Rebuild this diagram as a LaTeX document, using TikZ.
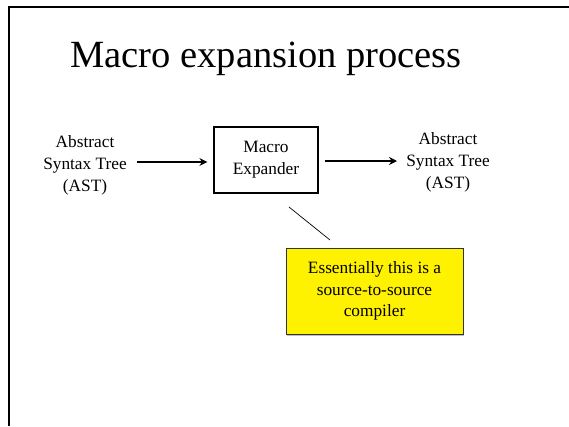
\documentclass[tikz,border=0pt]{standalone}
\usepackage{fontspec}
\setmainfont{Liberation Serif}
\usetikzlibrary{arrows.meta,shadows}
\begin{document}
\begin{tikzpicture}[x=1pt,y=-1pt,
  lbl/.style={align=center,font=\fontsize{17.3}{22}\selectfont,inner sep=0pt},
  conn/.style={line width=1.6pt,-{Stealth[length=8pt,width=8pt]}},
  procbox/.style={draw,line width=1.2pt,minimum width=104pt,minimum height=66pt,align=center,font=\fontsize{17.3}{22}\selectfont,inner sep=0pt},
  notebox/.style={draw=black!80,fill=yellow,line width=0.8pt,minimum width=177pt,minimum height=86pt,align=center,font=\fontsize{17.3}{21.5}\selectfont,inner sep=0pt,drop shadow={shadow xshift=1pt,shadow yshift=-1.5pt,opacity=0.5}}]
\useasboundingbox (0,0) rectangle (569,426);
\fill[white] (0,0) rectangle (569,426);
\coordinate (ftl) at (9,7);
\coordinate (ftr) at (569,7);
\coordinate (fbl) at (9,426);
\draw[line width=2.5pt] (fbl) -- (ftl) -- (ftr);
\node[font=\fontsize{38.5}{40}\selectfont,inner sep=0pt] (title) at (266,59) {Macro expansion process};
\node[lbl] (src) at (85,165) {Abstract\\Syntax Tree\\(AST)};
\node[procbox] (mx) at (266,160) {Macro\\Expander};
\node[lbl] (dst) at (448,162) {Abstract\\Syntax Tree\\(AST)};
\coordinate (a1s) at (137,162);
\coordinate (a2e) at (397,161);
\draw[conn] (a1s) -- ([xshift=-6pt]mx.west |- a1s);
\draw[conn] ([xshift=6pt]mx.east |- a2e) -- (a2e);
\node[notebox] (note) at (374.5,291) {Essentially this is a\\source-to-source\\compiler};
\coordinate (c1) at (289,207);
\coordinate (c2) at (330,240);
\draw[line width=0.7pt] (c1) -- (c2);
\end{tikzpicture}
\end{document}
